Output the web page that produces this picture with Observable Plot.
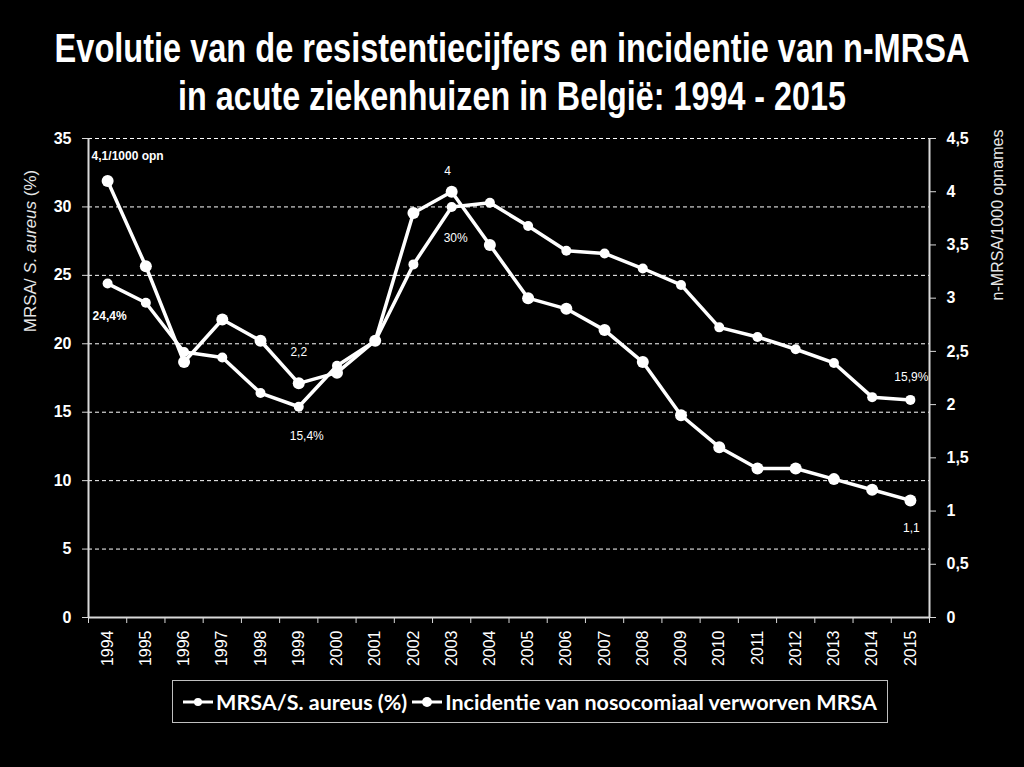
<!DOCTYPE html>
<html>
<head>
<meta charset="utf-8">
<script src="https://cdn.jsdelivr.net/npm/d3@7"></script>
<script src="https://cdn.jsdelivr.net/npm/@observablehq/plot@0.6"></script>
<style>
  html, body { margin: 0; padding: 0; background: #000; }
  #wrap { position: relative; width: 1024px; height: 767px; background: #000; overflow: hidden; }
  .tl { position: absolute; left: 512px; white-space: nowrap; color: #fff; transform-origin: 0 0;
    font-family: "Liberation Sans", sans-serif; font-weight: bold; font-size: 40px; line-height: 47px; }
  #t1 { top: 25px; }
  #t2 { top: 73px; }
  #chart { position: absolute; left: 0; top: 125px; }
  #legend { position: absolute; left: 172px; top: 680px; width: 714px; height: 41px; border: 1px solid #bfbfbf;
    display: flex; align-items: center; justify-content: center; gap: 5px; color: #fff;
    font-family: Lato, "Open Sans", sans-serif; font-weight: bold; font-size: 21.5px; }
  .item { display: flex; align-items: center; gap: 3px; }
</style>
</head>
<body>
<div id="wrap">
  <div class="tl" id="t1">Evolutie van de resistentiecijfers en incidentie van n-MRSA</div>
  <div class="tl" id="t2">in acute ziekenhuizen in België: 1994 - 2015</div>
  <div id="chart"></div>
  <div id="legend"></div>
</div>
<script>
// ---- data ----
const years = [1994, 1995, 1996, 1997, 1998, 1999, 2000, 2001, 2002, 2003, 2004,
               2005, 2006, 2007, 2008, 2009, 2010, 2011, 2012, 2013, 2014, 2015];
const mrsa = [24.4, 23.0, 19.4, 19.0, 16.4, 15.4, 18.4, 20.2, 25.8, 30.0, 30.3,
              28.6, 26.8, 26.6, 25.5, 24.3, 21.2, 20.5, 19.6, 18.6, 16.1, 15.9];
const incidence = [4.1, 3.3, 2.4, 2.8, 2.6, 2.2, 2.3, 2.6, 3.8, 4.0, 3.5,
                   3.0, 2.9, 2.7, 2.4, 1.9, 1.6, 1.4, 1.4, 1.3, 1.2, 1.1];
const leftTicks = [0, 5, 10, 15, 20, 25, 30, 35];
const rightTicks = [0, 0.5, 1, 1.5, 2, 2.5, 3, 3.5, 4, 4.5];
const seriesNames = ["MRSA/S. aureus (%)", "Incidentie van nosocomiaal verworven MRSA"];
const leftLabel = ["MRSA/ ", "S. aureus", " (%)"];
const rightLabel = "n-MRSA/1000 opnames";
// annotations: year, series, label
const annYears = [1994, 1994, 1999, 1999, 2003, 2003, 2015, 2015];
const annSeries = ["inc", "mrsa", "inc", "mrsa", "inc", "mrsa", "mrsa", "inc"];
const annLabels = ["4,1/1000 opn", "24,4%", "2,2", "15,4%", "4", "30%", "15,9%", "1,1"];

// ---- title condensing (fit reference line widths), centred ----
[["t1", 915], ["t2", 668]].forEach(([id, w]) => {
  const el = document.getElementById(id);
  const s = w / el.offsetWidth;
  el.style.transform = `scaleX(${s}) translateX(-50%)`;
});

// ---- derived ----
const leftMax = 35, rightMax = 4.5, k = leftMax / rightMax;
const data = years.map((y, i) => ({year: y, mrsa: mrsa[i], inc: incidence[i]}));
const boundaries = d3.range(years.length + 1).map(i => years[0] - 0.5 + i);
const comma = v => String(+v.toFixed(1)).replace(".", ",");
const ann = annYears.map((y, i) => {
  const d = data.find(e => e.year === y);
  return {year: y, v: annSeries[i] === "inc" ? d.inc * k : d.mrsa, label: annLabels[i]};
});
const annStyle = [
  {dx: -16, dy: -25, anchor: "start", weight: "bold"},
  {dx: -15, dy: 33, anchor: "start", weight: "bold"},
  {dx: 0, dy: -31, anchor: "middle", weight: "normal"},
  {dx: 8, dy: 29, anchor: "middle", weight: "normal"},
  {dx: -4, dy: -21, anchor: "middle", weight: "normal"},
  {dx: 4, dy: 31, anchor: "middle", weight: "normal"},
  {dx: 1, dy: -23, anchor: "middle", weight: "normal"},
  {dx: 1, dy: 28, anchor: "middle", weight: "normal"}
];

const axisColor = "#d9d9d9";
const tickFont = "'Liberation Sans', sans-serif";

const plot = Plot.plot({
  width: 1024,
  height: 550,
  marginLeft: 88,
  marginRight: 95,
  marginTop: 13,
  marginBottom: 58,
  style: {background: "transparent", color: "#fff", fontFamily: tickFont},
  x: {type: "linear", domain: [boundaries[0], boundaries[boundaries.length - 1]]},
  y: {domain: [0, leftMax]},
  marks: [
    Plot.gridY(leftTicks.filter(t => t > 0), {stroke: "#fff", strokeOpacity: 1, strokeWidth: 1, strokeDasharray: "4,3"}),
    Plot.ruleY([0], {stroke: axisColor, strokeWidth: 2}),
    Plot.ruleX([boundaries[0], boundaries[boundaries.length - 1]], {stroke: axisColor, strokeWidth: 2}),
    Plot.axisY({anchor: "left", ticks: leftTicks, tickSize: 6, tickPadding: 11, stroke: axisColor,
      fill: "#fff", fontSize: 16, fontWeight: "bold", label: null, tickFormat: d => String(d)}),
    Plot.axisY({anchor: "right", ticks: rightTicks.map(t => t * k), tickSize: 6, tickPadding: 11, stroke: axisColor,
      fill: "#fff", fontSize: 16, fontWeight: "bold", label: null, tickFormat: d => comma(d / k), textAnchor: "start"}),
    Plot.axisX({ticks: boundaries, tickSize: 6, stroke: axisColor, tickFormat: () => "", label: null}),
    Plot.axisX({ticks: years, tickSize: 0, tickPadding: 13, tickRotate: -90, fontSize: 16,
      fill: "#fff", label: null, tickFormat: d => String(d)}),
    Plot.line(data, {x: "year", y: "mrsa", stroke: "#fff", strokeWidth: 3.5}),
    Plot.dot(data, {x: "year", y: "mrsa", r: 5, fill: "#fff"}),
    Plot.line(data, {x: "year", y: d => d.inc * k, stroke: "#fff", strokeWidth: 3.5}),
    Plot.dot(data, {x: "year", y: d => d.inc * k, r: 6, fill: "#fff"}),
    ...ann.map((a, i) => Plot.text([a], {x: "year", y: "v", text: "label", dx: annStyle[i].dx, dy: annStyle[i].dy,
      textAnchor: annStyle[i].anchor, fontWeight: annStyle[i].weight, fontSize: 12, fill: "#fff"}))
  ]
});
document.getElementById("chart").appendChild(plot);

// axis titles (rotated), with italic species name
const svg = d3.select(plot);
const lt = svg.append("text")
  .attr("transform", "translate(36,126) rotate(-90)")
  .attr("text-anchor", "middle")
  .attr("fill", "#e6e6e6")
  .attr("font-family", "'Liberation Sans', sans-serif")
  .attr("font-size", 17);
lt.append("tspan").text(leftLabel[0]);
lt.append("tspan").attr("font-style", "italic").text(leftLabel[1]);
lt.append("tspan").text(leftLabel[2]);
svg.append("text")
  .attr("transform", "translate(1003,90) rotate(-90)")
  .attr("text-anchor", "middle")
  .attr("fill", "#e6e6e6")
  .attr("font-family", "'Liberation Sans', sans-serif")
  .attr("font-size", 16)
  .text(rightLabel);

// legend
const legend = d3.select("#legend");
seriesNames.forEach((name, i) => {
  const it = legend.append("div").attr("class", "item");
  const s = it.append("svg").attr("width", 30).attr("height", 12);
  s.append("line").attr("x1", 0).attr("x2", 30).attr("y1", 6).attr("y2", 6).attr("stroke", "#fff").attr("stroke-width", 3);
  s.append("circle").attr("cx", 15).attr("cy", 6).attr("r", i === 0 ? 4 : 5).attr("fill", "#fff");
  it.append("span").text(name);
});
</script>
</body>
</html>
